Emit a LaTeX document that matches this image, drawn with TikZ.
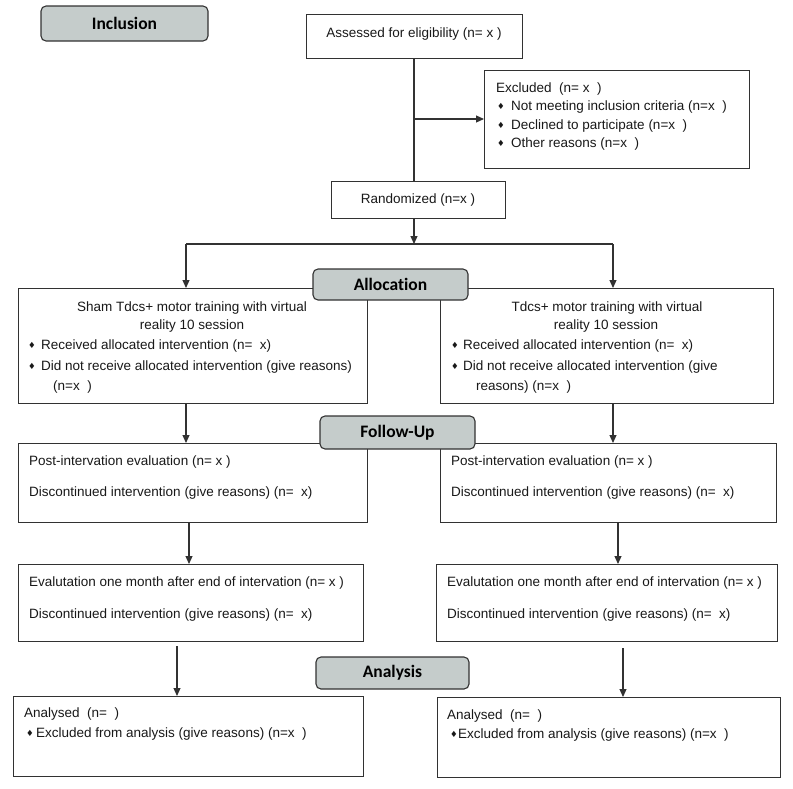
\documentclass[tikz,border=0pt]{standalone}
\usepackage{fontspec}
\setmainfont{Liberation Sans}
\newfontfamily\hdrfont[Ligatures={NoCommon}]{Carlito}
\newfontfamily\dejavu{DejaVu Sans}
\usetikzlibrary{arrows.meta}
\definecolor{hdrgray}{RGB}{197,204,203}
\definecolor{linegray}{RGB}{50,50,50}
\newcommand{\bul}[1]{\makebox[#1][l]{\raisebox{0.6pt}{\dejavu\fontsize{8.5}{8.5}\selectfont ♦}}}
\tikzset{
  box/.style={draw=linegray, line width=1.1pt, fill=white, anchor=north west, inner sep=0pt},
  hdr/.style={draw=linegray, line width=1.1pt, fill=hdrgray, rounded corners=5pt, inner sep=0pt,
    font=\hdrfont\bfseries\fontsize{17.5}{20}\selectfont},
  txt/.style={anchor=west, inner sep=0pt, text=black!90, font=\fontsize{13.5}{16}\selectfont},
  ctxt/.style={anchor=center, inner sep=0pt, text=black!90, font=\fontsize{13.5}{16}\selectfont},
  arr/.style={draw=linegray, line width=1.1pt, -{Triangle[length=8pt,width=7pt]}},
  ln/.style={draw=linegray, line width=1.1pt}
}
\begin{document}
\begin{tikzpicture}[x=1pt,y=-1pt]
\useasboundingbox (0,0) rectangle (793,788);
% boxes
\node[box, minimum width=216, minimum height=44] (assess) at (306,14) {};
\node[box, minimum width=265, minimum height=98] (excl) at (484,70) {};
\node[box, minimum width=174, minimum height=37] (rand) at (331,181) {};
\node[box, minimum width=349, minimum height=115] (allocL) at (18,288) {};
\node[box, minimum width=333, minimum height=115] (allocR) at (440,288) {};
\node[box, minimum width=349, minimum height=79] (fuL) at (18,443) {};
\node[box, minimum width=336, minimum height=79] (fuR) at (440,443) {};
\node[box, minimum width=345, minimum height=77] (evL) at (18,564) {};
\node[box, minimum width=341, minimum height=77] (evR) at (436,564) {};
\node[box, minimum width=350, minimum height=80] (anL) at (13,696) {};
\node[box, minimum width=343, minimum height=80] (anR) at (437,697) {};
% headers
\node[hdr, minimum width=167, minimum height=35] (hInc) at (124.5,23.5) {Inclusion};
\node[hdr, minimum width=155, minimum height=31] (hAll) at (390.5,284.5) {Allocation};
\node[hdr, minimum width=155, minimum height=33] (hFol) at (397.5,432.5) {Follow-Up};
\node[hdr, minimum width=153, minimum height=32] (hAna) at (392.5,673) {Analysis};
% texts
\node[ctxt] (tAssess) at (414,34) {Assessed for eligibility (n= x )};
\node[ctxt] (tRand) at (418,200) {Randomized (n=x )};
\node[txt] (tEx0) at (496,89) {Excluded\ \ (n= x\ \ )};
\node[txt] (tEx1) at (497,107) {\bul{14pt}Not meeting inclusion criteria (n=x\ \ )};
\node[txt] (tEx2) at (497,126) {\bul{14pt}Declined to participate (n=x\ \ )};
\node[txt] (tEx3) at (497,144) {\bul{14pt}Other reasons (n=x\ \ )};
\node[ctxt] (tAL1) at (192,308) {Sham Tdcs+ motor training with virtual};
\node[ctxt] (tAL2) at (192,326) {reality 10 session};
\node[txt] (tAL3) at (28,346) {\bul{13pt}Received allocated intervention (n=\ \ x)};
\node[txt] (tAL4) at (28,367) {\bul{13pt}Did not receive allocated intervention (give reasons)};
\node[txt] (tAL5) at (53,387) {(n=x\ \ )};
\node[ctxt] (tAR1) at (607,308) {Tdcs+ motor training with virtual};
\node[ctxt] (tAR2) at (606,326) {reality 10 session};
\node[txt] (tAR3) at (451,346) {\bul{12pt}Received allocated intervention (n=\ \ x)};
\node[txt] (tAR4) at (451,367) {\bul{12pt}Did not receive allocated intervention (give};
\node[txt] (tAR5) at (476,387) {reasons) (n=x\ \ )};
\node[txt] (tFL1) at (29,462) {Post-intervation evaluation (n= x )};
\node[txt] (tFL2) at (29,493) {Discontinued intervention (give reasons) (n=\ \ x)};
\node[txt] (tFR1) at (451,462) {Post-intervation evaluation (n= x )};
\node[txt] (tFR2) at (451,493) {Discontinued intervention (give reasons) (n=\ \ x)};
\node[txt] (tEL1) at (29,583) {Evalutation one month after end of intervation (n= x )};
\node[txt] (tEL2) at (29,615) {Discontinued intervention (give reasons) (n=\ \ x)};
\node[txt] (tER1) at (447,583) {Evalutation one month after end of intervation (n= x )};
\node[txt] (tER2) at (447,615) {Discontinued intervention (give reasons) (n=\ \ x)};
\node[txt] (tNL1) at (24,714) {Analysed\ \ (n=\ \ )};
\node[txt] (tNL2) at (26,734) {\bul{10pt}Excluded from analysis (give reasons) (n=x\ \ )};
\node[txt] (tNR1) at (447,716) {Analysed\ \ (n=\ \ )};
\node[txt] (tNR2) at (450,735) {\bul{8pt}Excluded from analysis (give reasons) (n=x\ \ )};
% connector coordinates
\coordinate (cMain) at (414,0);
\coordinate (cBr) at (414,119);
\coordinate (cSplit) at (414,244);
\coordinate (cL) at (186,244);
\coordinate (cR) at (613,244);
\coordinate (xL2) at (189,0);
\coordinate (xR2) at (618,0);
\coordinate (xL3) at (177,0);
\coordinate (xR3) at (623,0);
% connectors
\draw[ln] (assess.south -| cMain) -- (rand.north -| cMain);
\draw[arr] (cBr) -- (excl.west |- cBr);
\draw[arr] (rand.south -| cMain) -- (cSplit);
\draw[ln] (cL) -- (cR);
\draw[arr] (cL) -- (allocL.north -| cL);
\draw[arr] (cR) -- (allocR.north -| cR);
\draw[arr] (allocL.south -| cL) -- (fuL.north -| cL);
\draw[arr] (allocR.south -| cR) -- (fuR.north -| cR);
\draw[arr] (fuL.south -| xL2) -- (evL.north -| xL2);
\draw[arr] (fuR.south -| xR2) -- (evR.north -| xR2);
\draw[arr, shorten <=4pt] (evL.south -| xL3) -- (anL.north -| xL3);
\draw[arr, shorten <=6pt] (evR.south -| xR3) -- (anR.north -| xR3);
\end{tikzpicture}
\end{document}
